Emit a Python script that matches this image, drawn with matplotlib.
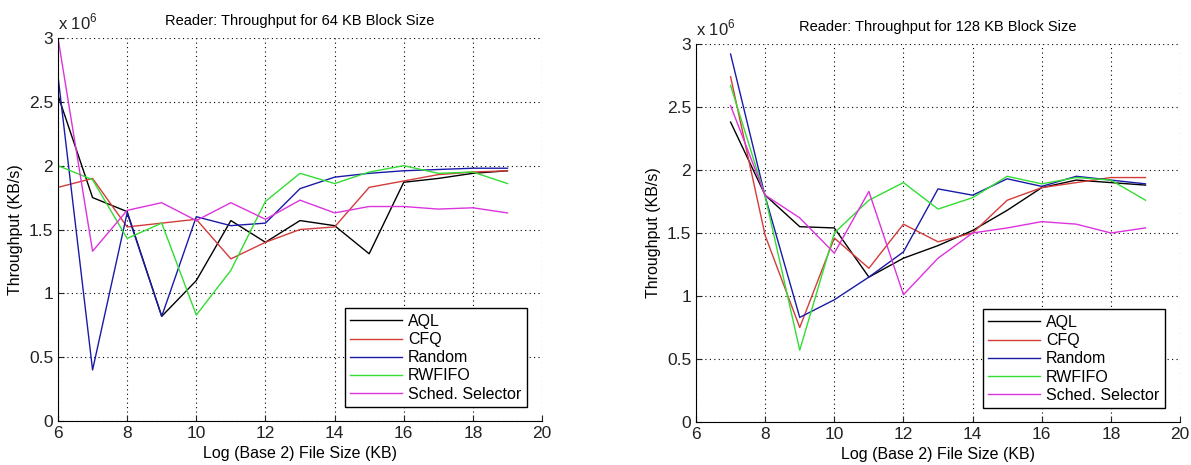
import matplotlib
matplotlib.use("Agg")
import matplotlib.pyplot as plt
import numpy as np
from matplotlib.ticker import FuncFormatter

plt.rcParams['font.family'] = ['Liberation Sans', 'DejaVu Sans']
plt.rcParams['mathtext.fontset'] = 'custom'
plt.rcParams['mathtext.rm'] = 'Liberation Sans'

# 64 KB block size, log2 file size 6..19 (values in KB/s)
x64 = [6, 7, 8, 9, 10, 11, 12, 13, 14, 15, 16, 17, 18, 19]
aql_64 = [2.55, 1.75, 1.64, 0.82, 1.10, 1.57, 1.40, 1.57, 1.53, 1.31, 1.87, 1.90, 1.94, 1.96]
cfq_64 = [1.83, 1.90, 1.52, 1.55, 1.58, 1.27, 1.40, 1.50, 1.52, 1.83, 1.88, 1.93, 1.95, 1.96]
random_64 = [2.70, 0.40, 1.63, 0.82, 1.60, 1.53, 1.55, 1.82, 1.91, 1.94, 1.96, 1.97, 1.98, 1.98]
rwfifo_64 = [2.00, 1.89, 1.43, 1.55, 0.83, 1.18, 1.72, 1.94, 1.86, 1.95, 2.00, 1.94, 1.95, 1.86]
sched_64 = [3.00, 1.33, 1.65, 1.71, 1.57, 1.71, 1.58, 1.73, 1.63, 1.68, 1.68, 1.66, 1.67, 1.63]

# 128 KB block size, log2 file size 7..19
x128 = [7, 8, 9, 10, 11, 12, 13, 14, 15, 16, 17, 18, 19]
aql_128 = [2.38, 1.80, 1.55, 1.54, 1.15, 1.30, 1.40, 1.52, 1.68, 1.86, 1.92, 1.90, 1.88]
cfq_128 = [2.74, 1.48, 0.75, 1.46, 1.22, 1.57, 1.43, 1.50, 1.76, 1.86, 1.90, 1.94, 1.94]
random_128 = [2.92, 1.79, 0.83, 0.97, 1.15, 1.35, 1.85, 1.80, 1.93, 1.87, 1.95, 1.92, 1.89]
rwfifo_128 = [2.67, 1.79, 0.57, 1.50, 1.76, 1.90, 1.69, 1.78, 1.95, 1.89, 1.94, 1.92, 1.76]
sched_128 = [2.51, 1.80, 1.62, 1.34, 1.83, 1.01, 1.30, 1.50, 1.54, 1.59, 1.57, 1.50, 1.54]

labels = ['AQL', 'CFQ', 'Random', 'RWFIFO', 'Sched. Selector']
colors = ['#000000', '#d43c3c', '#1a1aa8', '#33dd33', '#dd33dd']

fig = plt.figure(figsize=(11.91, 4.65), dpi=100)
ax1 = fig.add_axes([0.0487, 0.0946, 0.4064, 0.8237])
ax2 = fig.add_axes([0.5844, 0.0925, 0.4064, 0.8129])


def draw(ax, x, series, title):
    for s, lab, c in zip(series, labels, colors):
        ax.plot(x, np.array(s) * 1e6, color=c, lw=1.0, label=lab)
    ax.set_xlim(6, 20)
    ax.set_ylim(0, 3e6)
    ax.set_xticks(np.arange(6, 21, 2))
    ax.set_yticks(np.arange(0, 3.01e6, 0.5e6))
    ax.yaxis.set_major_formatter(FuncFormatter(lambda v, p: '%g' % (v / 1e6)))
    ax.text(0.0, 1.015, r'x 10$^{6}$', transform=ax.transAxes, fontsize=12,
            ha='left', va='bottom', color='#222222')
    ax.grid(True, linestyle=(0, (1, 3)), color='black', lw=0.8)
    ax.spines['top'].set_visible(False)
    ax.spines['right'].set_visible(False)
    ax.tick_params(direction='in', labelsize=12.5, length=4, colors='#222222')
    ax.set_title(title, fontsize=10.5, pad=9)
    ax.set_xlabel('Log (Base 2) File Size (KB)', fontsize=11.5)
    ax.set_ylabel('Throughput (KB/s)', fontsize=11.5)
    leg = ax.legend(loc='lower right', bbox_to_anchor=(0.985, 0.015), fontsize=11.5,
                    fancybox=False, framealpha=1, edgecolor='black',
                    handlelength=3.2, borderpad=0.35, labelspacing=0.2,
                    handletextpad=0.4)
    leg.get_frame().set_linewidth(1.0)


draw(ax1, x64, [aql_64, cfq_64, random_64, rwfifo_64, sched_64],
     'Reader: Throughput for 64 KB Block Size')
draw(ax2, x128, [aql_128, cfq_128, random_128, rwfifo_128, sched_128],
     'Reader: Throughput for 128 KB Block Size')

fig.savefig('out.png', dpi=100)
